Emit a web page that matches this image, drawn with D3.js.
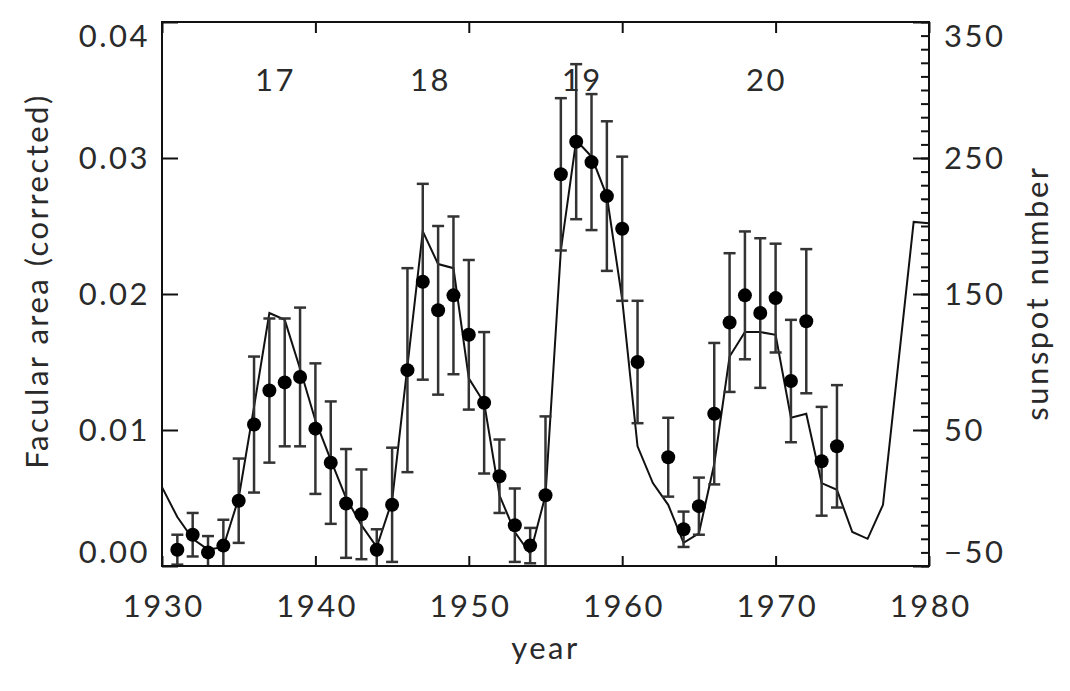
<!DOCTYPE html>
<html>
<head>
<meta charset="utf-8">
<script src="https://cdn.jsdelivr.net/npm/d3@7"></script>
<style>
  body { margin: 0; background: #fff; }
  svg text { font-family: Lato, "DejaVu Sans", sans-serif; fill: #2a2a2a; letter-spacing: 2.5px; }
</style>
</head>
<body>
<svg id="chart" width="1070" height="691"></svg>
<script>
// facular area points (year, value, error)
const pointYears = [1931,1932,1933,1934,1935,1936,1937,1938,1939,1940,1941,1942,1943,1944,1945,
  1946,1947,1948,1949,1950,1951,1952,1953,1954,1955,1956,1957,1958,1959,1960,1961,
  1963,1964,1965,1966,1967,1968,1969,1970,1971,1972,1973,1974];
const facular = [0.0012,0.0023,0.0010,0.0015,0.0048,0.0104,0.0129,0.0135,0.0139,0.0101,0.0076,0.0046,0.0038,0.0012,0.0045,
  0.0144,0.0209,0.0188,0.0199,0.0170,0.0120,0.0066,0.0030,0.0015,0.0052,0.0288,0.0312,0.0297,0.0272,0.0248,0.0150,
  0.0080,0.0027,0.0044,0.0112,0.0179,0.0199,0.0186,0.0197,0.0136,0.0180,0.0077,0.0088];
const facularErr = [0.0011,0.0016,0.0012,0.0019,0.0031,0.0050,0.0053,0.0047,0.0051,0.0048,0.0045,0.0040,0.0033,0.0015,0.0042,
  0.0075,0.0072,0.0062,0.0058,0.0055,0.0052,0.0027,0.0027,0.0013,0.0058,0.0056,0.0057,0.0050,0.0055,0.0053,0.0045,
  0.0029,0.0013,0.0021,0.0052,0.0051,0.0047,0.0055,0.0040,0.0045,0.0053,0.0040,0.0045];

// sunspot number (right axis)
const sunYears = d3.range(1930, 1981);
const sunspot = [8,-14,-30,-38,-36,0,67,136,131,95,57,28,0,-20,-36,-2,
  97,196,172,169,88,70,2,-25,-41,2,182,263,251,222,146,38,11,-5,-33,-26,
  25,104,122,122,120,59,62,11,6,-25,-30,-5,99,203,202];

// cycle labels
const cycleLabels = ["17","18","19","20"];
const cycleYears = [1937.4, 1947.5, 1957.4, 1969.4];

const xTicks = [1930,1940,1950,1960,1970,1980];
const leftTicks = [0,0.01,0.02,0.03,0.04];
const rightTicks = [-50,50,150,250,350];

const svg = d3.select("#chart");
const L = 162, R = 929, T = 22, B = 566;

const x = d3.scaleLinear().domain([1930,1980]).range([L,R]);
const yL = d3.scaleLinear().domain([0,0.04]).range([B,T]);
const yR = d3.scaleLinear().domain([-50,350]).range([B,T]);

svg.append("clipPath").attr("id","clip")
  .append("rect").attr("x",L).attr("y",T).attr("width",R-L).attr("height",B-T);

const plot = svg.append("g").attr("clip-path","url(#clip)");

// sunspot line
const line = d3.line().x((d,i) => x(sunYears[i])).y(d => yR(d));
plot.append("path").datum(sunspot)
  .attr("d", line).attr("fill","none").attr("stroke","#111").attr("stroke-width",2);

// error bars
const eb = plot.selectAll("g.eb").data(pointYears).enter().append("g")
  .attr("stroke","#333").attr("stroke-width",2.5);
eb.append("line")
  .attr("x1",(d)=>x(d)).attr("x2",(d)=>x(d))
  .attr("y1",(d,i)=>yL(facular[i]-facularErr[i]))
  .attr("y2",(d,i)=>yL(facular[i]+facularErr[i]));
eb.append("line")
  .attr("x1",(d)=>x(d)-6).attr("x2",(d)=>x(d)+6)
  .attr("y1",(d,i)=>yL(facular[i]+facularErr[i]))
  .attr("y2",(d,i)=>yL(facular[i]+facularErr[i]));
eb.append("line")
  .attr("x1",(d)=>x(d)-6).attr("x2",(d)=>x(d)+6)
  .attr("y1",(d,i)=>yL(facular[i]-facularErr[i]))
  .attr("y2",(d,i)=>yL(facular[i]-facularErr[i]));

// points
plot.selectAll("circle").data(pointYears).enter().append("circle")
  .attr("cx",(d)=>x(d)).attr("cy",(d,i)=>yL(facular[i]))
  .attr("r",7).attr("fill","#000");

// frame
svg.append("rect").attr("x",L).attr("y",T).attr("width",R-L).attr("height",B-T)
  .attr("fill","none").attr("stroke","#111").attr("stroke-width",2);

const fs = "31px";

// bottom axis
const gB = svg.append("g").attr("transform",`translate(0,${B})`)
  .call(d3.axisBottom(x).tickValues(xTicks).tickFormat(d3.format("d")).tickSizeInner(-10).tickSizeOuter(0));
gB.selectAll("text").attr("y",51).attr("dy",0).attr("dx","0.04em").style("font-size",fs);

// top axis
svg.append("g").attr("transform",`translate(0,${T})`)
  .call(d3.axisTop(x).tickValues(xTicks).tickFormat("").tickSizeInner(-11).tickSizeOuter(0));

// left axis
const gL = svg.append("g").attr("transform",`translate(${L},0)`)
  .call(d3.axisLeft(yL).tickValues(leftTicks).tickFormat(d3.format(".2f")).tickSizeInner(-16).tickSizeOuter(0).tickPadding(12));
gL.selectAll("text").style("font-size",fs)
  .attr("dy",(d,i,n)=> i===0 ? "-0.12em" : (i===n.length-1 ? "0.78em" : "0.35em"));

// right axis, minor then major
svg.append("g").attr("transform",`translate(${R},0)`)
  .call(d3.axisRight(yR).tickValues(d3.range(-50,351,10)).tickFormat("").tickSizeInner(-8).tickSizeOuter(0));
const gR = svg.append("g").attr("transform",`translate(${R},0)`)
  .call(d3.axisRight(yR).tickValues(rightTicks).tickFormat(d3.format("d")).tickSizeInner(-16).tickSizeOuter(0).tickPadding(15));
gR.selectAll("text").style("font-size",fs)
  .attr("dy",(d,i,n)=> i===0 ? "-0.12em" : (i===n.length-1 ? "0.78em" : "0.35em"));

svg.selectAll(".domain").remove();
svg.selectAll(".tick line").attr("stroke","#111").attr("stroke-width",2);
svg.selectAll(".tick text").attr("fill","#2a2a2a").style("font-family","Lato, 'DejaVu Sans', sans-serif");

// cycle numbers
svg.selectAll("text.cycle").data(cycleLabels).enter().append("text")
  .attr("class","cycle")
  .attr("x",(d,i)=>x(cycleYears[i])).attr("y",yL(0.0349))
  .attr("text-anchor","middle").style("font-size",fs).text(d=>d);

// axis titles
svg.append("text").attr("x",x(1955)).attr("y",659)
  .attr("text-anchor","middle").style("font-size",fs).text("year");
svg.append("text").attr("transform","translate(48,281) rotate(-90)")
  .attr("text-anchor","middle").style("font-size",fs).text("Facular area (corrected)");
svg.append("text").attr("transform","translate(1048,293) rotate(-90)")
  .attr("text-anchor","middle").style("font-size",fs).text("sunspot number");
</script>
</body>
</html>
